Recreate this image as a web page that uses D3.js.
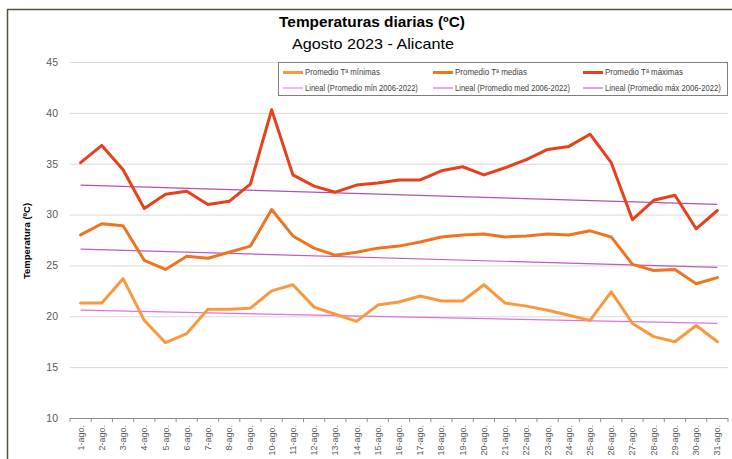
<!DOCTYPE html>
<html><head><meta charset="utf-8">
<script src="https://cdn.jsdelivr.net/npm/d3@7"></script>
<style>body{margin:0;background:#fff}svg{display:block}</style>
</head><body><svg id="c" width="732" height="459"></svg>
<script>
const days = d3.range(1, 32).map(d => d + "-ago.");
const tMin = [21.3,21.3,23.7,19.6,17.4,18.3,20.7,20.7,20.8,22.5,23.1,20.9,20.2,19.5,21.1,21.4,22.0,21.5,21.5,23.1,21.3,21.0,20.6,20.1,19.6,22.4,19.3,18.0,17.5,19.1,17.5];
const tMed = [28.0,29.1,28.9,25.5,24.6,25.9,25.7,26.3,26.9,30.5,27.9,26.7,26.0,26.3,26.7,26.9,27.3,27.8,28.0,28.1,27.8,27.9,28.1,28.0,28.4,27.8,25.1,24.5,24.6,23.2,23.8];
const tMax = [35.1,36.8,34.4,30.6,32.0,32.3,31.0,31.3,33.0,40.3,33.9,32.8,32.2,32.9,33.1,33.4,33.4,34.3,34.7,33.9,34.6,35.4,36.4,36.7,37.9,35.1,29.5,31.4,31.9,28.6,30.4];
const trendMin = [20.6, 19.3];
const trendMed = [26.6, 24.8];
const trendMax = [32.9, 31.0];
const yTicks = [10,15,20,25,30,35,40,45];
const title = "Temperaturas diarias (ºC)";
const subtitle = "Agosto 2023 - Alicante";
const yLabel = "Temperatura (ºC)";
const legendItems = [
  {label:"Promedio Tª mínimas", color:"#f79a3e", w:3},
  {label:"Promedio Tª medias", color:"#f07320", w:3},
  {label:"Promedio Tª máximas", color:"#e8401a", w:3},
  {label:"Lineal (Promedio mín 2006-2022)", color:"#e070e0", w:1},
  {label:"Lineal (Promedio med 2006-2022)", color:"#c058c8", w:1},
  {label:"Lineal (Promedio máx 2006-2022)", color:"#b050b8", w:1}
];

const svg = d3.select("#c");
const font = "Liberation Sans, Arial, sans-serif";
svg.append("rect").attr("width",732).attr("height",459).attr("fill","#fff");
svg.append("path").attr("d","M7.5,459 V9.5 H732").attr("fill","none").attr("stroke","#4b5a33").attr("stroke-width",1.5);

const L = 70, R = 728, T = 62, B = 418;
const x = d3.scaleBand().domain(days).range([L, R]);
const y = d3.scaleLinear().domain([10, 45]).range([B, T]);
const cx = d => x(d) + x.bandwidth()/2;

// gridlines
const yAxis = d3.axisLeft(y).tickValues(yTicks).tickSize(-(R-L)).tickPadding(12);
const gy = svg.append("g").attr("transform",`translate(${L},0)`).call(yAxis);
gy.select(".domain").remove();
gy.selectAll(".tick line").attr("stroke","#d9d9d9").attr("stroke-width",1);
gy.selectAll(".tick text").attr("fill","#595959").style("font-family",font).style("font-size","10.5px");

// x axis
const xAxis = d3.axisBottom(x).tickSize(0).tickPadding(0);
const gx = svg.append("g").attr("transform",`translate(0,${B})`).call(xAxis);
gx.select(".domain").attr("stroke","#8c8c8c").attr("stroke-width",1.2).attr("d",`M${L},0.5H${R}`);
gx.selectAll(".tick text").attr("fill","#595959").style("font-family",font).style("font-size","9px")
  .attr("transform","rotate(-90)").attr("text-anchor","end").attr("x",-7).attr("y",0).attr("dy","0.33em");
// boundary ticks
const bounds = days.map(d => x(d)).concat([R]);
svg.append("g").selectAll("line").data(bounds).join("line")
  .attr("x1",d=>d).attr("x2",d=>d).attr("y1",B).attr("y2",B+4)
  .attr("stroke","#8c8c8c").attr("stroke-width",1);

// trend lines
const trendData = [[trendMin,legendItems[3].color],[trendMed,legendItems[4].color],[trendMax,legendItems[5].color]];
svg.append("g").selectAll("line").data(trendData).join("line")
  .attr("x1",cx(days[0])).attr("x2",cx(days[days.length-1]))
  .attr("y1",d=>y(d[0][0])).attr("y2",d=>y(d[0][1]))
  .attr("stroke",d=>d[1]).attr("stroke-width",1.2);

// series lines
const line = d3.line().x((v,i)=>cx(days[i])).y(v=>y(v));
[[tMin,legendItems[0].color],[tMed,legendItems[1].color],[tMax,legendItems[2].color]].forEach(([s,c])=>{
  svg.append("path").datum(s).attr("d",line).attr("fill","none").attr("stroke",c)
    .attr("stroke-width",3).attr("stroke-linejoin","round").attr("stroke-linecap","round");
});

// legend
const lg = svg.append("g");
lg.append("rect").attr("x",278.5).attr("y",62.5).attr("width",449).attr("height",33)
  .attr("fill","#fff").attr("stroke","#7f7f7f").attr("stroke-width",1);
const colX = [283, 433, 583];
const rowY = [72.5, 88];
const textW = [75, 72, 78, 113, 115, 116];
legendItems.forEach((it,i)=>{
  const cxp = colX[i%3], cy = rowY[Math.floor(i/3)];
  lg.append("line").attr("x1",cxp).attr("x2",cxp+20).attr("y1",cy).attr("y2",cy)
    .attr("stroke",it.color).attr("stroke-width",it.w);
  const g = lg.append("g").attr("transform",`translate(${cxp+22},${cy})`);
  const t = g.append("text").attr("x",0).attr("y",0).attr("dy","0.35em")
    .attr("fill","#404040").style("font-family",font).style("font-size","8.5px").text(it.label);
  const nat = t.node().getComputedTextLength();
  g.attr("transform",`translate(${cxp+22},${cy}) scale(${textW[i]/nat},1)`);
});

// titles
function fitText(sel, w){
  const nat = sel.node().getComputedTextLength();
  const xx = +sel.attr("x"), yy = +sel.attr("y");
  sel.attr("x",0).attr("y",0).attr("transform",`translate(${xx},${yy}) scale(${w/nat},1)`);
}
fitText(svg.append("text").attr("x",372).attr("y",27).attr("text-anchor","middle")
  .style("font-family",font).style("font-size","15px").style("font-weight","bold").attr("fill","#000")
  .text(title), 186);
fitText(svg.append("text").attr("x",373).attr("y",49).attr("text-anchor","middle")
  .style("font-family",font).style("font-size","14px").attr("fill","#000")
  .text(subtitle), 162);
svg.append("text").attr("transform","translate(30,241) rotate(-90)").attr("text-anchor","middle")
  .style("font-family",font).style("font-size","9.5px").style("font-weight","bold").attr("fill","#000")
  .text(yLabel);
</script></body></html>
